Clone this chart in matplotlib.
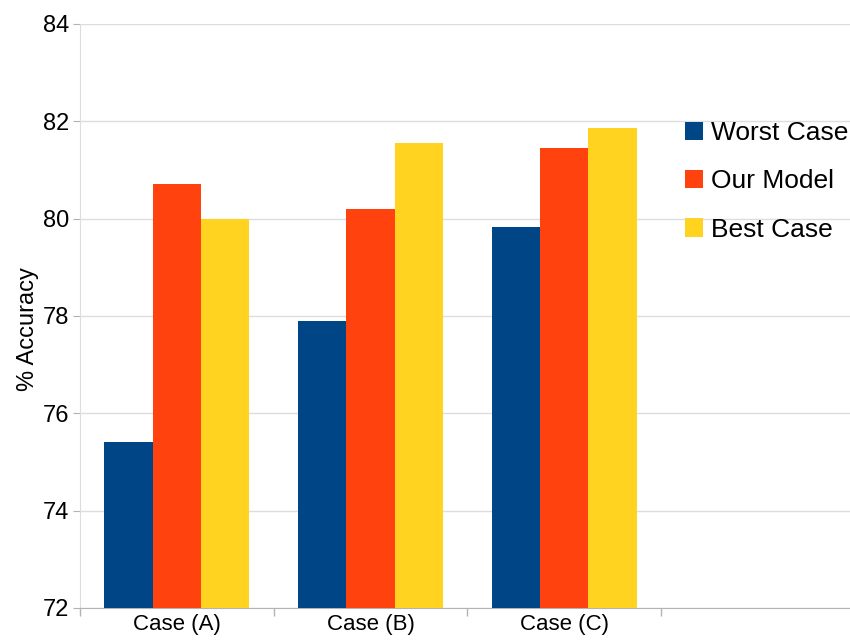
import numpy as np
import matplotlib.pyplot as plt

plt.rcParams['font.family'] = ['Liberation Sans', 'DejaVu Sans']

cases = ["Case (A)", "Case (B)", "Case (C)"]
series = ["Worst Case", "Our Model", "Best Case"]
worst = [75.41, 77.90, 79.83]
ours = [80.72, 80.20, 81.45]
best = [80.00, 81.55, 81.87]
colors = ["#004586", "#ff420e", "#ffd320"]

fig = plt.figure(figsize=(8.5, 6.41), dpi=100)
ax = fig.add_axes([80 / 850, 33 / 641, 770 / 850, 584 / 641])

x = np.arange(len(cases))
w = 0.25
for i, (vals, name) in enumerate(zip([worst, ours, best], series)):
    ax.bar(x + (i - 1) * w, np.array(vals) - 72, w, bottom=72,
           color=colors[i], label=name, zorder=3)

ax.set_ylim(72, 84)
ax.set_yticks(np.arange(72, 85, 2))
ax.set_xlim(-0.5, 3.475)

# category labels at centres, ticks at the category boundaries
ax.set_xticks(x)
ax.set_xticklabels(cases)
ax.tick_params(axis='x', length=0, labelsize=16, pad=4)
ax.set_xticks(np.arange(-0.5, 3.0, 1.0), minor=True)
ax.tick_params(axis='x', which='minor', length=6, color='#b3b3b3', width=1)
ax.tick_params(axis='y', length=5, color='#b3b3b3', labelsize=17, pad=3)

ax.grid(axis='y', color='#dddddd', linewidth=1, zorder=0)
for s in ['top', 'right']:
    ax.spines[s].set_visible(False)
ax.spines['left'].set_color('#dddddd')
ax.spines['bottom'].set_color('#b3b3b3')

ax.set_ylabel("% Accuracy", fontsize=17)
ax.yaxis.set_label_coords(-0.053, 0.478)

leg = ax.legend(loc='upper left', bbox_to_anchor=(685 / 850, 1 - 121 / 641),
                bbox_transform=fig.transFigure, frameon=False, fontsize=19,
                handlelength=0.7, handleheight=0.7, handletextpad=0.3,
                labelspacing=0.92, borderpad=0, borderaxespad=0)

fig.savefig("out.png", dpi=100)
